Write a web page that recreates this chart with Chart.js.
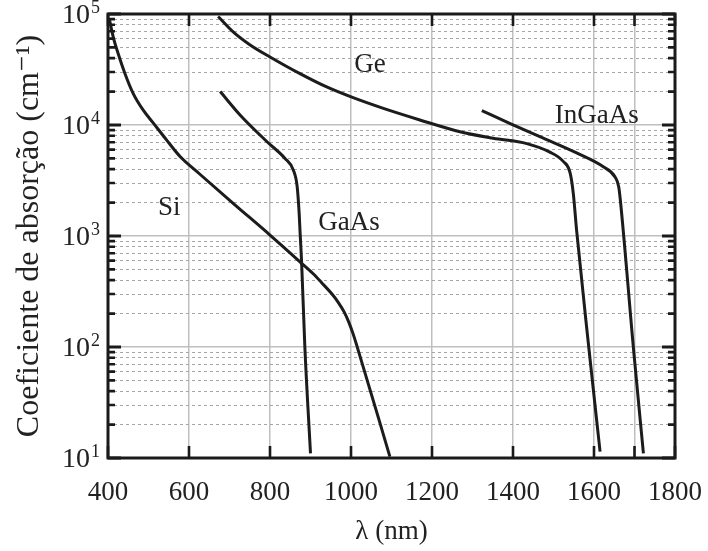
<!DOCTYPE html>
<html><head><meta charset="utf-8">
<script src="https://cdn.jsdelivr.net/npm/chart.js@4/dist/chart.umd.min.js"></script>
<style>html,body{margin:0;padding:0;background:#fff}</style>
</head><body>
<canvas id="c" width="708" height="551" style="width:708px;height:551px;display:block"></canvas>
<script>
// ---- Data ----
const siLambda = [403, 413, 425, 442, 462, 487, 512, 545, 578, 627, 709, 800, 874, 906, 928, 951, 968, 983, 995, 1005, 1014, 1096];
const siAlpha  = [91000, 62000, 44000, 29000, 19300, 13600, 10400, 7300, 5200, 3600, 1970, 1020, 586, 459, 378, 306, 254, 207, 166, 132, 104, 10.3];

const geLambda = [672, 709, 751, 800, 874, 940, 1002, 1080, 1170, 1269, 1351, 1434, 1491, 1524, 1541, 1549, 1557, 1587, 1615];
const geAlpha  = [95000, 69000, 52600, 41000, 29000, 22000, 17800, 14100, 11100, 8700, 7600, 6800, 5700, 4700, 3700, 2400, 1130, 100, 11.4];

const ingaasLambda = [1323, 1393, 1475, 1557, 1623, 1652, 1661, 1665, 1697, 1722];
const ingaasAlpha  = [13500, 10300, 7600, 5600, 4200, 3400, 2780, 2110, 101, 11];

const gaasLambda = [677, 726, 792, 837, 858, 867, 872, 874, 878, 886, 900];
const gaasAlpha  = [20000, 12300, 7100, 5000, 3900, 2800, 1600, 1130, 586, 101, 11];

const xTickValues = [400, 600, 800, 1000, 1200, 1400, 1600, 1700, 1800];
const xTickLabels = ['400', '600', '800', '1000', '1200', '1400', '1600', '', '1800'];
const yMajorValues = [10, 100, 1000, 10000, 100000];
const yTickBase = ['10', '10', '10', '10', '10'];
const yTickExp  = ['1', '2', '3', '4', '5'];

const curveNames = ['Si', 'GaAs', 'Ge', 'InGaAs'];
const labelLambda = [551, 995, 1047, 1607];
const labelAlpha  = [1545, 1130, 30300, 10400];

const xTitle = '\u03BB (nm)';
const yTitle = 'Coeficiente de absor\u00E7\u00E3o (cm\u207B\u00B9)';

// ---- helpers ----
const FONT = "'Liberation Serif', 'DejaVu Serif', serif";
const isMajor = v => Math.abs(Math.log10(v) - Math.round(Math.log10(v))) < 1e-9;
const yAllTicks = [];
for (let e = 1; e <= 4; e++) for (let m = 1; m <= 9; m++) yAllTicks.push(m * Math.pow(10, e));
yAllTicks.push(100000);
const pts = (xs, ys) => xs.map((x, i) => ({x, y: ys[i]}));

const mkSet = (name, xs, ys) => ({
  label: name, data: pts(xs, ys), borderColor: '#1c1c1c', borderWidth: 3,
  pointRadius: 0, fill: false, cubicInterpolationMode: 'monotone', borderCapStyle: 'butt'
});

const framePlugin = {
  id: 'frame',
  afterDatasetsDraw(chart) {
    const {ctx, chartArea: a, scales: {x, y}} = chart;
    ctx.save();
    ctx.strokeStyle = '#1a1a1a';
    ctx.lineCap = 'butt';
    y.ticks.forEach(t => {
      const py = y.getPixelForValue(t.value);
      const maj = isMajor(t.value);
      ctx.lineWidth = maj ? 3 : 2.6;
      const len = maj ? 13 : 7;
      ctx.beginPath();
      ctx.moveTo(a.left, py); ctx.lineTo(a.left + len, py);
      ctx.moveTo(a.right, py); ctx.lineTo(a.right - len, py);
      ctx.stroke();
    });
    x.ticks.forEach(t => {
      const px = x.getPixelForValue(t.value);
      ctx.lineWidth = 2.6;
      ctx.beginPath();
      ctx.moveTo(px, a.bottom); ctx.lineTo(px, a.bottom - 12);
      ctx.moveTo(px, a.top); ctx.lineTo(px, a.top + 12);
      ctx.stroke();
    });
    ctx.lineWidth = 3;
    ctx.strokeRect(a.left, a.top, a.right - a.left, a.bottom - a.top);
    ctx.fillStyle = '#222';
    ctx.font = "27px " + FONT;
    ctx.textAlign = 'center';
    ctx.textBaseline = 'alphabetic';
    curveNames.forEach((n, i) => {
      ctx.fillText(n, x.getPixelForValue(labelLambda[i]), y.getPixelForValue(labelAlpha[i]));
    });
    // y tick labels with real superscripts
    ctx.textAlign = 'right';
    yMajorValues.forEach((v, i) => {
      const py = y.getPixelForValue(v);
      const right = a.left - 8;
      ctx.font = "18px " + FONT;
      const ew = ctx.measureText(yTickExp[i]).width;
      ctx.fillText(yTickExp[i], right, py - 1);
      ctx.font = "28px " + FONT;
      ctx.fillText(yTickBase[i], right - ew - 1, py + 9);
    });
    ctx.restore();
  }
};

new Chart(document.getElementById('c'), {
  type: 'line',
  data: { datasets: [
    mkSet('Si', siLambda, siAlpha),
    mkSet('GaAs', gaasLambda, gaasAlpha),
    mkSet('Ge', geLambda, geAlpha),
    mkSet('InGaAs', ingaasLambda, ingaasAlpha)
  ]},
  options: {
    responsive: false, animation: false, devicePixelRatio: 1,
    layout: { padding: { top: 14, right: 33, left: 0, bottom: 0 } },
    plugins: { legend: { display: false }, tooltip: { enabled: false } },
    scales: {
      x: {
        type: 'linear', min: 400, max: 1800,
        afterBuildTicks: s => { s.ticks = xTickValues.map(v => ({value: v})); },
        afterFit: s => { s.height = 93; s.paddingLeft = 0; s.paddingRight = 0; },
        ticks: {
          autoSkip: false, maxRotation: 0, padding: 19, color: '#222',
          font: { family: FONT, size: 27 },
          callback: v => { const i = xTickValues.indexOf(v); return i >= 0 ? xTickLabels[i] : ''; }
        },
        grid: { drawTicks: false, color: '#bfbfbf', lineWidth: 1.5 },
        border: { display: false },
        title: { display: true, text: xTitle, color: '#222', font: { family: FONT, size: 27 }, padding: { top: 0, bottom: 3 } }
      },
      y: {
        type: 'logarithmic', min: 10, max: 100000,
        afterBuildTicks: s => { s.ticks = yAllTicks.map(v => ({value: v, major: isMajor(v)})); },
        afterFit: s => { s.width = 108; s.paddingTop = 0; s.paddingBottom = 0; },
        ticks: { autoSkip: false, padding: 8, callback: () => '' },
        grid: {
          drawTicks: false,
          color: c => isMajor(c.tick.value) ? '#bfbfbf' : '#a6a6a6',
          lineWidth: c => isMajor(c.tick.value) ? 1.5 : 1
        },
        border: { display: false, dash: c => (c.tick && !isMajor(c.tick.value)) ? [3, 3] : [] },
        title: { display: true, text: yTitle, color: '#222', font: { family: FONT, size: 32 }, padding: { top: 10, bottom: 0 } }
      }
    }
  },
  plugins: [framePlugin]
});
</script>
</body></html>
